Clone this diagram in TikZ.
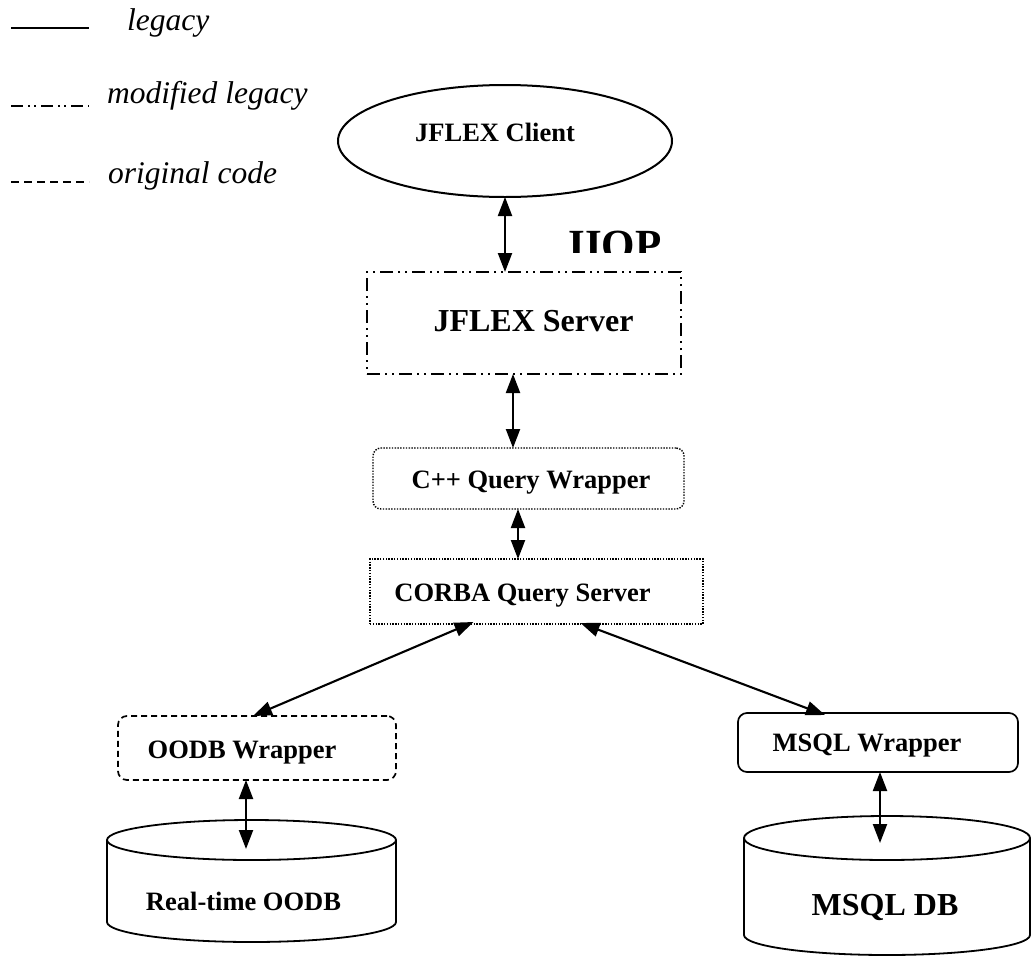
\documentclass[tikz,border=0pt]{standalone}
\usepackage{fontspec}
\setmainfont{Liberation Serif}
\usetikzlibrary{arrows.meta,shapes.geometric,calc}

\begin{document}
\begin{tikzpicture}[x=1pt,y=-1pt,
  frame/.style={draw, line width=1.7pt, inner sep=0pt, outer sep=0pt},
  dashdotdot/.style={dash pattern=on 13pt off 5pt on 2pt off 5pt on 2pt off 5pt},
  origdash/.style={dash pattern=on 8pt off 5pt},
  finedots/.style={dash pattern=on 1.4pt off 1.4pt, line width=1.4pt},
  biarrow/.style={line width=2.1pt, {Triangle[length=19pt,width=14pt]}-{Triangle[length=19pt,width=14pt]}},
  label/.style={font=\fontsize{26.5}{30}\selectfont\bfseries, inner sep=0pt, anchor=base},
  biglabel/.style={font=\fontsize{32}{36}\selectfont\bfseries, inner sep=0pt, anchor=base},
  legendtext/.style={font=\fontsize{31.5}{36}\selectfont\itshape, inner sep=0pt, anchor=base west},
  cyl/.style={draw, line width=1.8pt}
]
\useasboundingbox (0,0) rectangle (1034,956);

% ---- legend ----
\coordinate (l1a) at (11,28);   \coordinate (l1b) at (89,28);
\coordinate (l2a) at (11,106);  \coordinate (l2b) at (89,106);
\coordinate (l3a) at (11,182);  \coordinate (l3b) at (89,182);
\draw[line width=2.2pt] (l1a) -- (l1b);
\draw[line width=2pt, dash pattern=on 12pt off 5pt on 2pt off 4pt on 2pt off 5pt] (l2a) -- (l2b);
\draw[line width=2pt, origdash] (l3a) -- (l3b);
\node[legendtext] (legA) at (127,30) {legacy};
\node[legendtext] (legB) at (107,103) {modified legacy};
\node[legendtext] (legC) at (108,183) {original code};

% ---- client ----
\node[ellipse, draw, line width=2pt, minimum width=334pt, minimum height=112pt,
      inner sep=0pt, outer sep=0pt] (client) at (505,141) {};
\node[label] (clientT) at (495,141) {JFLEX Client};

% ---- IIOP (cut off by the server frame) ----
\begin{scope}
  \clip (560,200) rectangle (690,252);
  \node[font=\fontsize{43}{48}\selectfont\bfseries, inner sep=0pt, anchor=base] (iiop) at (615,259) {IIOP};
\end{scope}

% ---- server ----
\node[frame, dashdotdot, minimum width=314pt, minimum height=102pt] (server) at (524,323) {};
\node[biglabel] (serverT) at (533.5,331.5) {JFLEX Server};

% ---- C++ wrapper ----
\node[frame, finedots, rounded corners=8pt, minimum width=311pt, minimum height=61pt] (cpp) at (528.5,478.5) {};
\node[label] (cppT) at (531,488) {C++ Query Wrapper};

% ---- CORBA query server ----
\node[frame, finedots, minimum width=333pt, minimum height=65pt] (corba) at (536.5,591.5) {};
\node[label] (corbaT) at (522.5,601.5) {CORBA Query Server};

% ---- OODB wrapper ----
\node[frame, dash pattern=on 6pt off 4pt, rounded corners=9pt, minimum width=278pt, minimum height=64pt] (oodbw) at (257,748) {};
\node[label] (oodbwT) at (242,758) {OODB Wrapper};

% ---- MSQL wrapper ----
\node[frame, rounded corners=9pt, minimum width=280pt, minimum height=59pt] (msqlw) at (878,742.5) {};
\node[label] (msqlwT) at (867,751.5) {MSQL Wrapper};

% ---- Real-time OODB cylinder ----
\draw[cyl] (107,840) -- (107,922) arc[start angle=180, end angle=360, x radius=144.5pt, y radius=20pt] -- (396,840);
\draw[cyl] (251.5,840) ellipse[x radius=144.5pt, y radius=20pt];
\coordinate (oodbtop) at (246,849);
\node[label] (oodbT) at (243.5,910) {Real-time OODB};

% ---- MSQL DB cylinder ----
\draw[cyl] (744,838) -- (744,935) arc[start angle=180, end angle=360, x radius=143pt, y radius=20pt] -- (1030,838);
\draw[cyl] (887,838) ellipse[x radius=143pt, y radius=22pt];
\coordinate (msqltop) at (880,843);
\node[biglabel] (msqlT) at (885,915) {MSQL DB};

% ---- connectors ----
\draw[biarrow] (client.south) -- (client.south |- server.north);
\draw[biarrow] ([xshift=-11pt]server.south) -- ([xshift=-11pt]server.south |- cpp.north);
\draw[biarrow] ([xshift=-10.5pt]cpp.south) -- ([xshift=-10.5pt]cpp.south |- corba.north);
\draw[biarrow] ([xshift=-63pt,yshift=2pt]corba.south) -- ([xshift=-4pt]oodbw.north);
\draw[biarrow] ([xshift=44pt,yshift=1pt]corba.south) -- ([xshift=-53pt,yshift=-2pt]msqlw.north);
\draw[biarrow] ([xshift=-11pt]oodbw.south) -- (oodbtop);
\draw[biarrow] ([xshift=2pt]msqlw.south) -- (msqltop);
\end{tikzpicture}
\end{document}
